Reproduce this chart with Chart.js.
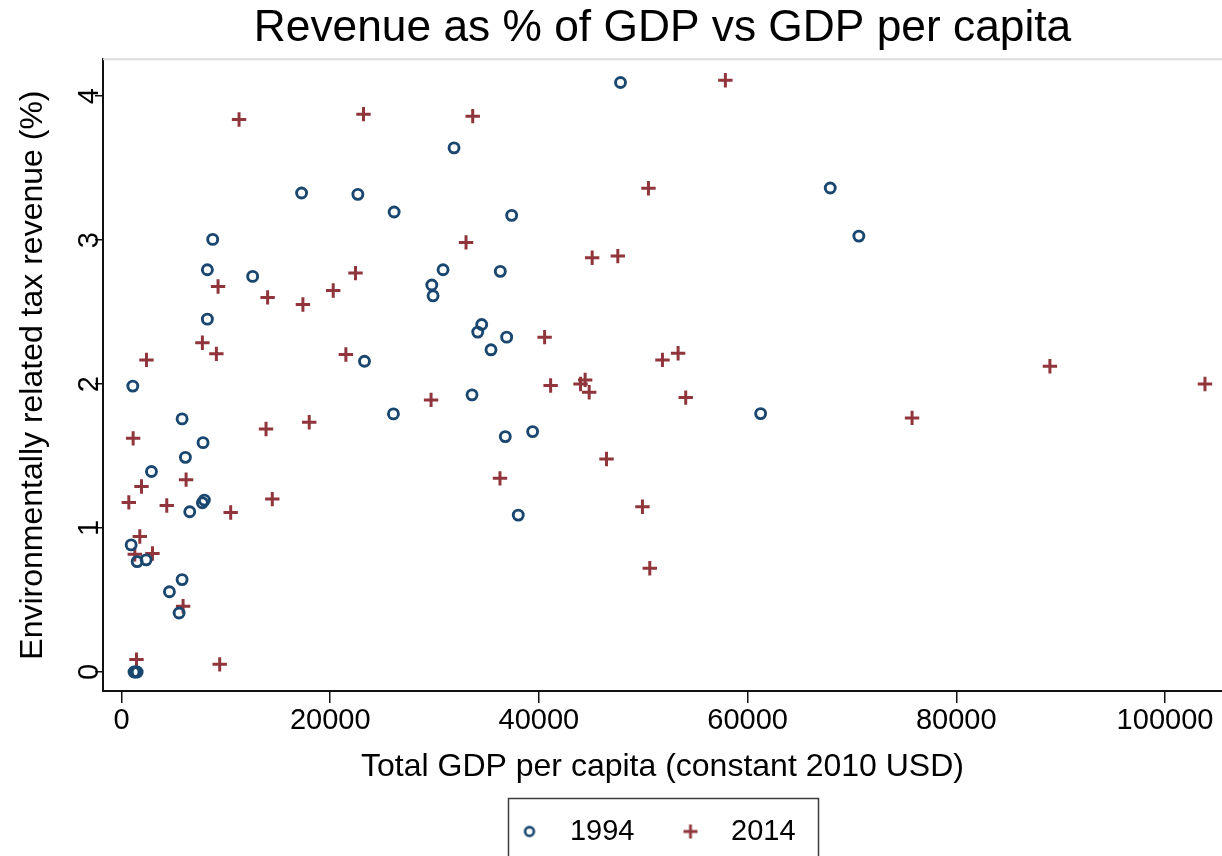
<!DOCTYPE html>
<html>
<head>
<meta charset="utf-8">
<script src="https://cdn.jsdelivr.net/npm/chart.js@4.4.1/dist/chart.umd.min.js"></script>
<style>
  html, body { margin: 0; padding: 0; background: #fff; overflow: hidden; }
  #wrap { width: 1222px; height: 856px; }
</style>
</head>
<body>
<div id="wrap"><canvas id="c" width="1222" height="856"></canvas></div>
<script>
// GDP per capita (constant 2010 USD) and environmentally related tax revenue (% of GDP)
const gdp1994 = [1084, 17257, 22650, 26126, 8740, 8230, 12568, 8230, 23286, 5806, 26060, 7815,
  6125, 2871, 7752, 7943, 6539, 925, 1500, 2360, 5806, 4594, 5520, 1200, 1350, 1500,
  47820, 31868, 37390, 30815, 36300, 29735, 29859, 34519, 34136, 36911, 35409, 33591,
  36779, 39400, 38022, 67920, 70660, 61250];
const tax1994 = [1.986, 3.327, 3.318, 3.195, 3.005, 2.794, 2.748, 2.451, 2.159, 1.758, 1.793, 1.593,
  1.491, 1.393, 1.176, 1.194, 1.113, 0.883, 0.767, 0.779, 0.642, 0.557, 0.410, 0, 0, 0,
  4.095, 3.641, 3.172, 2.794, 2.783, 2.688, 2.613, 2.414, 2.361, 2.326, 2.238, 1.925,
  1.635, 1.670, 1.090, 3.362, 3.028, 1.795];

const gdp2014 = [11264, 23190, 9253, 14004, 17385, 20288, 22425, 7752, 9092, 2393, 21502, 13850,
  17990, 1116, 1914, 6190, 702, 4338, 10463, 14450, 1754, 1275, 2967, 5902, 1436, 9410,
  33657, 50499, 33017, 45104, 47563, 40548, 51840, 53340, 41123, 43990, 44430, 44820,
  29667, 46480, 36270, 49923, 50625, 57870, 54070, 75760, 88970, 103830];
const tax2014 = [3.838, 3.875, 2.678, 2.602, 2.553, 2.650, 2.771, 2.287, 2.210, 2.168, 2.205, 1.688,
  1.735, 1.623, 1.289, 1.336, 1.178, 1.157, 1.108, 1.201, 0.941, 0.818, 0.823, 0.457, 0.086, 0.053,
  3.861, 3.360, 2.984, 2.878, 2.889, 2.326, 2.168, 2.214, 1.990, 2.001, 2.029, 1.943,
  1.890, 1.480, 1.345, 1.148, 0.721, 4.111, 1.906, 1.765, 2.124, 2.001];

const seriesNames = ['1994', '2014'];
const xTicks = [0, 20000, 40000, 60000, 80000, 100000];
const yTicks = [0, 1, 2, 3, 4];

const NAVY = '#1a476f';
const MAROON = '#90353b';
const FONT = "'Liberation Sans', Arial, sans-serif";

function toPoints(xs, ys) {
  return xs.map((x, i) => ({ x: x, y: ys[i] }));
}

// small marker images for the legend keys
function markerImage(kind) {
  const c = document.createElement('canvas');
  c.width = 18; c.height = 18;
  const g = c.getContext('2d');
  if (kind === 'circle') {
    g.strokeStyle = NAVY; g.lineWidth = 2.6;
    g.beginPath(); g.arc(9, 9, 4.4, 0, Math.PI * 2); g.stroke();
  } else {
    g.strokeStyle = MAROON; g.lineWidth = 2.8;
    g.beginPath();
    g.moveTo(2, 9); g.lineTo(16, 9);
    g.moveTo(9, 2); g.lineTo(9, 16);
    g.stroke();
  }
  return c;
}
const legendMarkers = [markerImage('circle'), markerImage('plus')];

// light top edge of the plot region and the frame around the legend
const frameDecor = {
  id: 'frameDecor',
  afterLayout(chart) {
    chart.legend.left -= 13;
    chart.legend.right -= 13;
  },
  afterDraw(chart) {
    const { ctx, chartArea } = chart;
    ctx.save();
    ctx.strokeStyle = '#dcdcdc';
    ctx.lineWidth = 2;
    ctx.beginPath();
    ctx.moveTo(chartArea.left, chartArea.top);
    ctx.lineTo(chartArea.right, chartArea.top);
    ctx.stroke();
    const cx = (chartArea.left + chartArea.right) / 2;
    ctx.strokeStyle = '#3c3c3c';
    ctx.lineWidth = 1.5;
    ctx.strokeRect(Math.round(cx - 155) + 0.5, chart.legend.top + 11.5, 310, chart.height);
    ctx.restore();
  }
};

function noEdgePadding(s) {
  s.paddingLeft = 0; s.paddingRight = 0; s.paddingTop = 0; s.paddingBottom = 0;
}

new Chart(document.getElementById('c'), {
  type: 'scatter',
  data: {
    datasets: [
      {
        label: seriesNames[0],
        data: toPoints(gdp1994, tax1994),
        pointStyle: 'circle',
        radius: 5,
        borderWidth: 2.9,
        borderColor: NAVY,
        backgroundColor: 'rgba(0,0,0,0)'
      },
      {
        label: seriesNames[1],
        data: toPoints(gdp2014, tax2014),
        pointStyle: 'cross',
        radius: 7.2,
        borderWidth: 3,
        borderColor: MAROON,
        backgroundColor: MAROON
      }
    ]
  },
  options: {
    responsive: false,
    animation: false,
    events: [],
    layout: { padding: 0, autoPadding: false },
    scales: {
      x: {
        type: 'linear',
        min: -1773,
        max: 105462,
        afterBuildTicks: (s) => { s.ticks = xTicks.map(v => ({ value: v })); },
        afterFit: (s) => { s.height = 96; noEdgePadding(s); },
        border: { display: true, color: '#111', width: 2 },
        grid: { drawOnChartArea: false, drawTicks: true, tickLength: 12, color: '#111', lineWidth: 1.5 },
        ticks: {
          autoSkip: false, maxRotation: 0, minRotation: 0, padding: 1,
          color: '#000', font: { family: FONT, size: 29 },
          callback: (v) => String(v)
        },
        title: {
          display: true,
          text: 'Total GDP per capita (constant 2010 USD)',
          color: '#000',
          font: { family: FONT, size: 32 },
          padding: { top: 0, bottom: 1 }
        }
      },
      y: {
        type: 'linear',
        min: -0.132,
        max: 4.257,
        afterBuildTicks: (s) => { s.ticks = yTicks.map(v => ({ value: v })); },
        afterFit: (s) => { s.width = 103; noEdgePadding(s); },
        border: { display: true, color: '#111', width: 2 },
        grid: { drawOnChartArea: false, drawTicks: true, tickLength: 8, color: '#111', lineWidth: 1.5 },
        ticks: {
          autoSkip: false, minRotation: 90, maxRotation: 90, padding: -3,
          crossAlign: 'center',
          color: '#000', font: { family: FONT, size: 29 },
          callback: (v) => String(v)
        },
        title: {
          display: true,
          text: 'Environmentally related tax revenue (%)',
          color: '#000',
          font: { family: FONT, size: 32 },
          padding: { top: 14, bottom: 0 }
        }
      }
    },
    plugins: {
      title: {
        display: true,
        text: 'Revenue as % of GDP vs GDP per capita',
        color: '#000',
        font: { family: FONT, size: 44.3, weight: 'normal' },
        padding: { top: 2, bottom: 4 },
        fullSize: false
      },
      legend: {
        display: true,
        position: 'bottom',
        fullSize: false,
        maxHeight: 72,
        labels: {
          usePointStyle: true,
          pointStyleWidth: 52,
          padding: 30,
          color: '#000',
          font: { family: FONT, size: 29 },
          generateLabels: (chart) => {
            const items = Chart.defaults.plugins.legend.labels.generateLabels(chart);
            items.forEach((it, i) => { it.pointStyle = legendMarkers[i]; });
            return items;
          }
        }
      },
      tooltip: { enabled: false }
    }
  },
  plugins: [frameDecor]
});
</script>
</body>
</html>
